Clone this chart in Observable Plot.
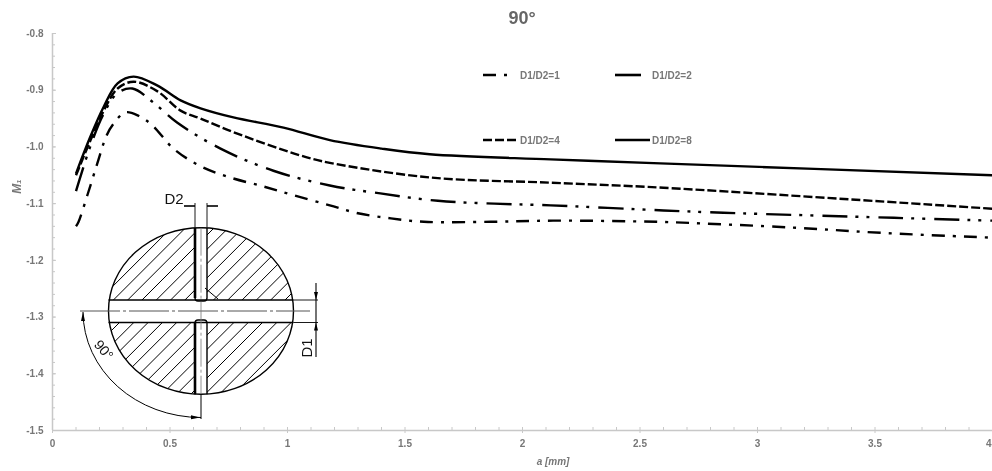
<!DOCTYPE html>
<html>
<head>
<meta charset="utf-8">
<script src="https://cdn.jsdelivr.net/npm/d3@7"></script>
<script src="https://cdn.jsdelivr.net/npm/@observablehq/plot@0.6"></script>
<style>
html,body{margin:0;padding:0;background:#fff;overflow:hidden}
#wrap{position:relative;width:992px;height:471px;overflow:hidden;filter:blur(0.35px);font-family:"Liberation Sans",sans-serif}
#wrap svg{position:absolute;left:0;top:0}
#title{position:absolute;left:0;width:1044px;top:8px;text-align:center;font-size:18px;font-weight:bold;color:#666}
</style>
</head>
<body>
<div id="wrap"><div id="title"></div></div>
<script>
const titleText = "90°";
const xLabel = "a [mm]";
const yLabel = "M₁";
const xTicks = [0, 0.5, 1, 1.5, 2, 2.5, 3, 3.5, 4];
const yTicks = [-0.8, -0.9, -1.0, -1.1, -1.2, -1.3, -1.4, -1.5];
const names = ["D1/D2=1", "D1/D2=2", "D1/D2=4", "D1/D2=8"];
const dashes = ["13,8,3,8", "25,8,3,8,3,9", "9,3", null];

const a1 = [0.1,0.11,0.15,0.19,0.23,0.26,0.31,0.366,0.425,0.515,0.63,0.757,0.9,1.025,1.18,1.3,1.44,1.58,1.865,2.13,2.57,2.71,3.14,3.55,4];
const m1 = [-1.14,-1.133,-1.083,-1.03,-0.98,-0.959,-0.939,-0.945,-0.962,-1.003,-1.034,-1.054,-1.07,-1.085,-1.103,-1.117,-1.126,-1.132,-1.132,-1.13,-1.132,-1.134,-1.142,-1.152,-1.16];
const a2 = [0.1,0.16,0.217,0.277,0.34,0.43,0.53,0.715,0.94,1.18,1.395,1.64,1.88,2.12,2.6,2.855,3.58,4];
const m2 = [-1.078,-1.0,-0.942,-0.905,-0.897,-0.922,-0.957,-1.003,-1.042,-1.068,-1.082,-1.095,-1.1,-1.103,-1.112,-1.116,-1.125,-1.13];
const a4 = [0.1,0.16,0.217,0.277,0.345,0.447,0.545,0.63,0.77,1.055,1.18,1.61,2.12,2.6,4];
const m4 = [-1.05,-0.99,-0.937,-0.897,-0.885,-0.902,-0.936,-0.95,-0.974,-1.015,-1.028,-1.054,-1.063,-1.072,-1.109];
const a8 = [0.1,0.16,0.217,0.277,0.345,0.447,0.545,0.63,0.77,0.983,1.18,1.4,1.605,2.12,2.587,4];
const m8 = [-1.047,-0.983,-0.93,-0.888,-0.876,-0.892,-0.918,-0.932,-0.948,-0.966,-0.988,-1.003,-1.013,-1.022,-1.029,-1.05];

const series = [[a1,m1],[a2,m2],[a4,m4],[a8,m8]];
const axisGrey = "#c8c8c8", textGrey = "#777";
const fmt = d => d3.format(".1f")(d).replace("−","-");
document.getElementById("title").textContent = titleText;

const lineMarks = series.map(([as,ms],i) => Plot.line(as.map((a,j)=>({a,m:ms[j]})), {
  x:"a", y:"m", stroke:"#000", strokeWidth: 2.4, curve:"catmull-rom", strokeLinecap:"butt",
  strokeDasharray: dashes[i] || undefined
}));

const tickFont = {fontSize:10, fontWeight:"bold"};
const chart = Plot.plot({
  width: 992, height: 471,
  marginLeft: 52, marginRight: 0, marginTop: 33, marginBottom: 41,
  x: {domain:[0,4]},
  y: {domain:[-1.5,-0.8]},
  style: {background:"transparent", overflow:"visible", fontFamily:"'Liberation Sans',sans-serif"},
  marks: [
    Plot.axisX(d3.range(0,40).map(d=>d/10).filter(d=>Math.round(d*10)%5!==0),{tickSize:3,tickPadding:0,text:null,stroke:axisGrey,label:null,dy:-3,anchor:"bottom"}),
    Plot.axisX(xTicks,{tickSize:6,tickPadding:6,stroke:axisGrey,fill:textGrey,...tickFont,label:null,tickFormat:d=>d===4?"":String(d),dy:-3,anchor:"bottom"}),
    Plot.text([4],{x:d=>d,y:[-1.5],text:d=>String(d),textAnchor:"end",dy:13,dx:-1,fill:textGrey,...tickFont}),
    Plot.axisY(d3.range(0,36).map(d=>-0.8-d*0.02),{tickSize:-3,tickPadding:0,text:null,stroke:axisGrey,label:null,anchor:"left"}),
    Plot.axisY(yTicks,{tickSize:-4,tickPadding:13,stroke:axisGrey,fill:textGrey,...tickFont,label:null,tickFormat:fmt,anchor:"left"}),
    Plot.ruleX([0],{stroke:axisGrey,strokeWidth:1.5}),
    Plot.ruleY([-1.5],{stroke:axisGrey,strokeWidth:1.5}),
    ...lineMarks,
    Plot.text([yLabel],{x:[0],y:[-1.07],text:d=>d,dx:-35,rotate:-90,fill:textGrey,fontSize:12,fontStyle:"italic",fontWeight:"bold"}),
    Plot.text([xLabel],{x:[2.13],y:[-1.5],text:d=>d,dy:31,fill:textGrey,fontSize:10,fontStyle:"italic",fontWeight:"bold"})
  ]
});
const wrap = document.getElementById("wrap");
wrap.appendChild(chart);

// Legend and the cross-section drawing, layered over the plot
const ns = d3.create("svg").attr("width",992).attr("height",471).style("pointer-events","none");
const legendPos = [[483,75,24],[615,75,26],[483,140,34],[615,140,35]];
const legendTx = [520,652,520,652];
const legendDash = ["13,8,3,8","26","9,3",null];
names.forEach((n,i)=>{
  const [x,y,w]=legendPos[i];
  ns.append("line").attr("x1",x).attr("x2",x+w).attr("y1",y).attr("y2",y).attr("stroke","#000").attr("stroke-width",2.6)
    .attr("stroke-dasharray",legendDash[i]);
  ns.append("text").attr("x",legendTx[i]).attr("y",y+3.5).attr("font-size",10).attr("font-weight","bold").attr("fill",textGrey)
    .attr("font-family","Liberation Sans").text(n);
});

const cx=201, cy=311, rx=92.5, ry=83.3;
const slotTop=300, slotBot=322.5, vl=195, vr=207;
const defs=ns.append("defs");
defs.append("clipPath").attr("id","quad").selectAll("rect").data([
  [cx-rx,cy-ry,vl-cx+rx,slotTop-cy+ry],[vr,cy-ry,cx+rx-vr,slotTop-cy+ry],
  [cx-rx,slotBot,vl-cx+rx,cy+ry-slotBot],[vr,slotBot,cx+rx-vr,cy+ry-slotBot]
]).join("rect").attr("x",d=>d[0]).attr("y",d=>d[1]).attr("width",d=>d[2]).attr("height",d=>d[3]);
defs.append("clipPath").attr("id","ell").append("ellipse").attr("cx",cx).attr("cy",cy).attr("rx",rx).attr("ry",ry);
const hatch=ns.append("g").attr("clip-path","url(#ell)").append("g").attr("clip-path","url(#quad)");
d3.range(-40,60).forEach(k=>{
  const c=cx+cy-70+k*14.3;
  hatch.append("line").attr("x1",cx-120).attr("y1",c-(cx-120)).attr("x2",cx+120).attr("y2",c-(cx+120)).attr("stroke","#000").attr("stroke-width",1);
});
const g=ns.append("g").attr("fill","none").attr("stroke","#000");
// vertical slots
g.append("path").attr("d",`M${vl} ${cy-ry} V${slotTop-2} Q${vl} ${slotTop+1} ${vl+3} ${slotTop+1} H${vr-3} Q${vr} ${slotTop+1} ${vr} ${slotTop-2} V${cy-ry}`).attr("fill","#fff").attr("stroke-width",1.4);
g.append("path").attr("d",`M${vl} ${cy+ry} V${slotBot+1} Q${vl} ${slotBot-2.5} ${vl+3} ${slotBot-2.5} H${vr-3} Q${vr} ${slotBot-2.5} ${vr} ${slotBot+1} V${cy+ry}`).attr("fill","#fff").attr("stroke-width",1.4);
g.append("line").attr("x1",vl).attr("x2",vl).attr("y1",cy-ry).attr("y2",slotTop-2).attr("stroke-width",2.6);
g.append("line").attr("x1",vl).attr("x2",vl).attr("y1",slotBot).attr("y2",cy+ry).attr("stroke-width",2.6);
g.append("line").attr("x1",205).attr("x2",218).attr("y1",288).attr("y2",299).attr("stroke-width",1);
// horizontal slot edges and the outline, over the slots
g.append("line").attr("x1",cx-rx).attr("x2",cx+rx).attr("y1",slotTop).attr("y2",slotTop).attr("stroke-width",1.4);
g.append("line").attr("x1",cx-rx).attr("x2",cx+rx).attr("y1",slotBot).attr("y2",slotBot).attr("stroke-width",1.4);
g.append("ellipse").attr("cx",cx).attr("cy",cy).attr("rx",rx).attr("ry",ry).attr("stroke-width",1.4);
// centre lines
g.append("line").attr("x1",80).attr("x2",310).attr("y1",cy).attr("y2",cy).attr("stroke","#555").attr("stroke-width",1).attr("stroke-dasharray","40,3,3,3");
g.append("line").attr("x1",cx).attr("x2",cx).attr("y1",cy-ry).attr("y2",cy+ry).attr("stroke","#777").attr("stroke-width",0.8).attr("stroke-dasharray","28,3,3,3");
g.append("line").attr("x1",cx).attr("x2",cx).attr("y1",cy+ry).attr("y2",419).attr("stroke-width",1);
// angle arc
g.append("path").attr("d",`M83 ${cy+1} A118 106 0 0 0 ${cx} 417.5`).attr("stroke-width",1);
ns.append("path").attr("d",`M83 312 l-2 9 l4 0 z`).attr("fill","#000");
ns.append("path").attr("d",`M200 417.5 l-9 -2.2 l0 4 z`).attr("fill","#000");
// D2 dimension
g.append("line").attr("x1",195).attr("x2",195).attr("y1",203).attr("y2",227).attr("stroke-width",0.9);
g.append("line").attr("x1",207).attr("x2",207).attr("y1",203).attr("y2",227).attr("stroke-width",0.9);
g.append("line").attr("x1",184).attr("x2",195).attr("y1",206).attr("y2",206).attr("stroke-width",1.6);
g.append("line").attr("x1",207).attr("x2",218).attr("y1",206).attr("y2",206).attr("stroke-width",1.6);
// D1 dimension
g.append("line").attr("x1",cx+rx).attr("x2",318).attr("y1",slotTop).attr("y2",slotTop).attr("stroke-width",0.9);
g.append("line").attr("x1",cx+rx).attr("x2",318).attr("y1",slotBot).attr("y2",slotBot).attr("stroke-width",0.9);
g.append("line").attr("x1",316).attr("x2",316).attr("y1",283).attr("y2",357).attr("stroke-width",1.1);
ns.append("path").attr("d","M316 300 l-2 -8 l4 0 z M316 322.5 l-2 8 l4 0 z").attr("fill","#000");
const lab=(t,x,y,r,fs)=>ns.append("text").attr("transform",`translate(${x},${y}) rotate(${r})`).attr("font-size",fs).attr("font-family","Liberation Sans").attr("text-anchor","middle").attr("fill","#111").text(t);
lab("D2",174,204,0,15);
lab("D1",312,348,-90,15);
lab("90°",100,353,50,14);
wrap.appendChild(ns.node());
</script>
</body>
</html>
